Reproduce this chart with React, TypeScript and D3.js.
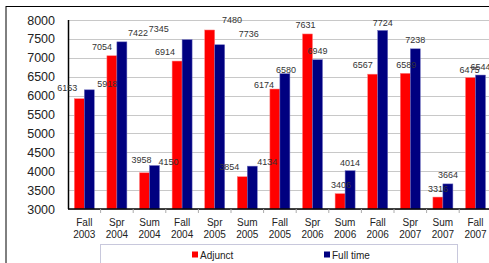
import * as d3 from "d3";
import React, { useEffect, useRef } from "react";

const terms = [
  ["Fall", "2003"], ["Spr", "2004"], ["Sum", "2004"], ["Fall", "2004"],
  ["Spr", "2005"], ["Sum", "2005"], ["Fall", "2005"], ["Spr", "2006"],
  ["Sum", "2006"], ["Fall", "2006"], ["Spr", "2007"], ["Sum", "2007"],
  ["Fall", "2007"],
];
const adjunct = [5918, 7054, 3958, 6914, 7736, 3854, 6174, 7631, 3406, 6567, 6589, 3316, 6475];
const fullTime = [6153, 7422, 4150, 7480, 7345, 4134, 6580, 6949, 4014, 7724, 7238, 3664, 6544];
const yTicks = [3000, 3500, 4000, 4500, 5000, 5500, 6000, 6500, 7000, 7500, 8000];
const seriesNames = ["Adjunct", "Full time"];
const colors = ["#ff0000", "#000080"];

// label nudges (dx, dy) from the top of each bar, the source chart places them loosely
const adjunctNudge = [[28, -15], [-10, -9], [-3, -13], [-12, -9], [39, 4], [-13, -10], [-11, -4], [-2, -9], [1, -9], [-10, -9], [1, -8], [0, -8], [-1, -8]];
const fullNudge = [[-22, -2], [16, -9], [14, -4], [45, -20], [-61, -16], [15, -4], [1, -4], [0, -9], [0, -8], [0, -8], [0, -9], [0, -9], [0, -8]];

export default function App() {
  const svgRef = useRef<SVGSVGElement>(null);
  const width = 489;
  const height = 263;
  const margin = { top: 20, left: 68, right: 489 - 491.8, bottom: 263 - 209 };

  useEffect(() => {
    document.body.style.margin = "0";
    const svg = d3.select(svgRef.current);
    svg.selectAll("*").remove();
    const font = "'Liberation Sans', Arial, sans-serif";

    const innerW = width - margin.left - margin.right;
    const innerH = height - margin.top - margin.bottom;

    const x = d3.scaleBand<number>().domain(d3.range(terms.length)).range([0, innerW]);
    const yScale = d3.scaleLinear().domain([3000, 8000]).range([innerH, 0]);
    const barW = 10;

    // outer frame
    svg.append("line").attr("x1", 6).attr("x2", width).attr("y1", 6.5).attr("y2", 6.5)
      .attr("stroke", "#000").attr("stroke-width", 1);
    svg.append("line").attr("x1", 6).attr("x2", 6).attr("y1", 6).attr("y2", height)
      .attr("stroke", "#000").attr("stroke-width", 1);

    const g = svg.append("g").attr("transform", `translate(${margin.left},${margin.top})`);

    // grid
    g.selectAll(".grid").data(yTicks).join("line")
      .attr("x1", 0).attr("x2", width - margin.left)
      .attr("y1", (d) => Math.round(yScale(d)) + 0.5).attr("y2", (d) => Math.round(yScale(d)) + 0.5)
      .attr("stroke", "#c8c8c8").attr("stroke-width", 1);

    // y labels
    g.selectAll(".ylab").data(yTicks).join("text")
      .attr("x", -13).attr("y", (d) => yScale(d)).attr("dy", "0.36em")
      .attr("text-anchor", "end").attr("font-family", font).attr("font-size", 12.5)
      .attr("fill", "#222").text((d) => d);

    // bars
    const series = [adjunct, fullTime];
    series.forEach((vals, s) => {
      g.selectAll(`.bar${s}`).data(vals).join("rect")
        .attr("x", (_d, i) => x(i)! + x.bandwidth() / 2 - barW + s * barW)
        .attr("y", (d) => yScale(d))
        .attr("width", barW)
        .attr("height", (d) => innerH - yScale(d))
        .attr("fill", colors[s])
        .attr("stroke", s === 0 ? "#ff8080" : "#7070c0")
        .attr("stroke-width", 0.5);
    });

    // axes
    g.append("line").attr("x1", 0.5).attr("x2", 0.5).attr("y1", 0).attr("y2", innerH)
      .attr("stroke", "#000").attr("stroke-width", 1.5);
    g.append("line").attr("x1", 0).attr("x2", width - margin.left).attr("y1", innerH).attr("y2", innerH)
      .attr("stroke", "#000").attr("stroke-width", 1.5);
    g.selectAll(".xtick").data(d3.range(1, terms.length)).join("line")
      .attr("x1", (i) => x(i)!).attr("x2", (i) => x(i)!)
      .attr("y1", innerH).attr("y2", innerH + 4)
      .attr("stroke", "#aaa");

    // x labels
    const xl = g.selectAll(".xlab").data(terms).join("text")
      .attr("text-anchor", "middle").attr("font-family", font).attr("font-size", 10)
      .attr("fill", "#222");
    xl.append("tspan").attr("x", (_d, i) => x(i)! + x.bandwidth() / 2).attr("y", innerH + 16.5).text((d) => d[0]);
    xl.append("tspan").attr("x", (_d, i) => x(i)! + x.bandwidth() / 2).attr("y", innerH + 28.5).text((d) => d[1]);

    // value labels
    const nudges = [adjunctNudge, fullNudge];
    series.forEach((vals, s) => {
      g.selectAll(`.val${s}`).data(vals).join("text")
        .attr("x", (_d, i) => x(i)! + x.bandwidth() / 2 - barW / 2 + s * barW + nudges[s][i][0])
        .attr("y", (d, i) => yScale(d) + nudges[s][i][1])
        .attr("dy", "0.35em")
        .attr("text-anchor", "middle").attr("font-family", font).attr("font-size", 9)
        .attr("fill", "#333").text((d) => d);
    });

    // legend
    svg.append("rect").attr("x", 100.5).attr("y", 244.5).attr("width", 357).attr("height", 30)
      .attr("fill", "none").attr("stroke", "#c8c8dc");
    const legendX = [192, 324];
    seriesNames.forEach((name, s) => {
      svg.append("rect").attr("x", legendX[s]).attr("y", 251.5).attr("width", 6).attr("height", 6)
        .attr("fill", colors[s]);
      svg.append("text").attr("x", legendX[s] + 8).attr("y", 258.5)
        .attr("font-family", font).attr("font-size", 10).attr("fill", "#222").text(name);
    });
  }, []);

  return (
    <div style={{ position: "absolute", left: 0, top: 0 }}>
      <svg ref={svgRef} width={width} height={height} style={{ display: "block", background: "#fff" }}></svg>
    </div>
  );
}
